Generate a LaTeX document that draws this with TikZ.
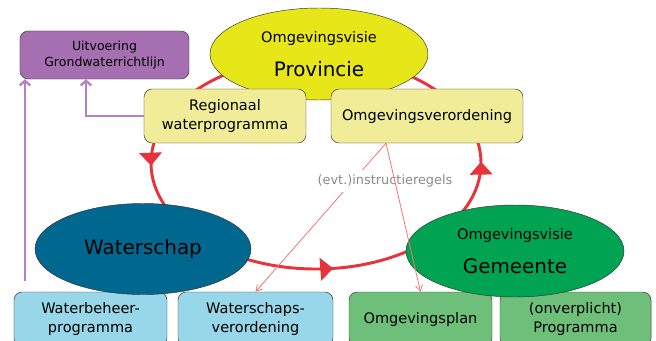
\documentclass[tikz,border=0pt]{standalone}
\usepackage{fontspec}
\setmainfont{DejaVu Sans}
\usetikzlibrary{arrows.meta,shapes.geometric,decorations.markings}
\definecolor{provgeel}{HTML}{E6E619}
\definecolor{lichtgeel}{HTML}{F0EC98}
\definecolor{paars}{HTML}{A66FB2}
\definecolor{paarslijn}{HTML}{B480CA}
\definecolor{blauwgroen}{HTML}{00678E}
\definecolor{groen}{HTML}{00A352}
\definecolor{lichtgroen}{HTML}{6DBF7A}
\definecolor{lichtblauw}{HTML}{98D6EA}
\definecolor{rood}{HTML}{E8323C}
\definecolor{lichtrood}{HTML}{F07878}
\definecolor{grijs}{HTML}{8A8A8A}
\tikzset{pijlpunt/.tip={Triangle[length=11pt,width=19pt]}}

\begin{document}
\begin{tikzpicture}[x=0.03cm,y=-0.03cm,
  vak/.style={draw=black!80, rounded corners=7pt, align=center, inner sep=2pt,
    minimum height=1.62cm, font=\fontsize{12.4}{16}\selectfont},
  ovaal/.style={ellipse, draw=black!80, inner sep=0pt, align=center,
    minimum width=6.54cm, minimum height=2.76cm, font=\fontsize{12.4}{29}\selectfont},
  paarspijl/.style={paarslijn, line width=2pt, -{Straight Barb[length=4pt,width=9pt]}},
  regel/.style={lichtrood, line width=0.7pt, -{Straight Barb[length=5pt,width=6pt]}}]
\useasboundingbox (0,0) rectangle (656,340);
\clip (0,0) rectangle (656,340);
% cirkel
\draw[rood, line width=2.5pt, postaction={decorate}, decoration={markings,
    mark=at position 0.23 with {\arrowreversed{pijlpunt}},
    mark=at position 0.497 with {\arrowreversed{pijlpunt}},
    mark=at position 0.9985 with {\arrowreversed{pijlpunt}}}]
  (316,163) ellipse [x radius=165, y radius=106];
% provincie
\node[vak, fill=paars, minimum width=5.07cm, minimum height=1.44cm,
  font=\fontsize{10.7}{14}\selectfont] (gwr) at (104.5,55) {Uitvoering\\Grondwaterrichtlijn};
\node[ovaal, fill=provgeel] (prov) at (319,54) {Omgevingsvisie\\\fontsize{17}{29}\selectfont Provincie};
\node[vak, fill=lichtgeel, minimum width=4.86cm] (reg) at (225,116) {Regionaal\\waterprogramma};
\node[vak, fill=lichtgeel, minimum width=5.76cm] (ov) at (427,116) {Omgevingsverordening};
% onderste vakken
\node[vak, fill=lichtblauw, minimum width=4.59cm] (wbp) at (90.5,319) {Waterbeheer-\\programma};
\node[vak, fill=lichtblauw, minimum width=4.65cm] (wsv) at (255.5,319) {Waterschaps-\\verordening};
\node[vak, fill=lichtgroen, minimum width=4.29cm] (op) at (420.5,319) {Omgevingsplan};
\node[vak, fill=lichtgroen, minimum width=4.53cm] (prog) at (575.5,319) {(onverplicht)\\Programma};
% waterschap en gemeente
\node[ovaal, fill=blauwgroen, minimum width=6.48cm, minimum height=2.73cm,
  font=\fontsize{17}{20}\selectfont] (ws) at (143,249) {Waterschap};
\node[ovaal, fill=groen] (gem) at (515,251) {Omgevingsvisie\\\fontsize{17}{29}\selectfont Gemeente};
% paarse pijlen
\draw[paarspijl] (reg.west) -| ([xshift=-0.555cm]gwr.south);
\coordinate (wb) at (25,281);
\draw[paarspijl] (wb) -- (wb |- gwr.south);
% instructieregels
\coordinate (ir) at ([xshift=-1.23cm]ov.south);
\draw[regel] (ir) -- (wsv.north);
\node[fill=white, inner sep=4pt, text=grijs, font=\fontsize{11}{13}\selectfont] (lbl) at (385,181) {(evt.)instructieregels};
\draw[regel] (ir) -- (op.north);
\end{tikzpicture}
\end{document}
